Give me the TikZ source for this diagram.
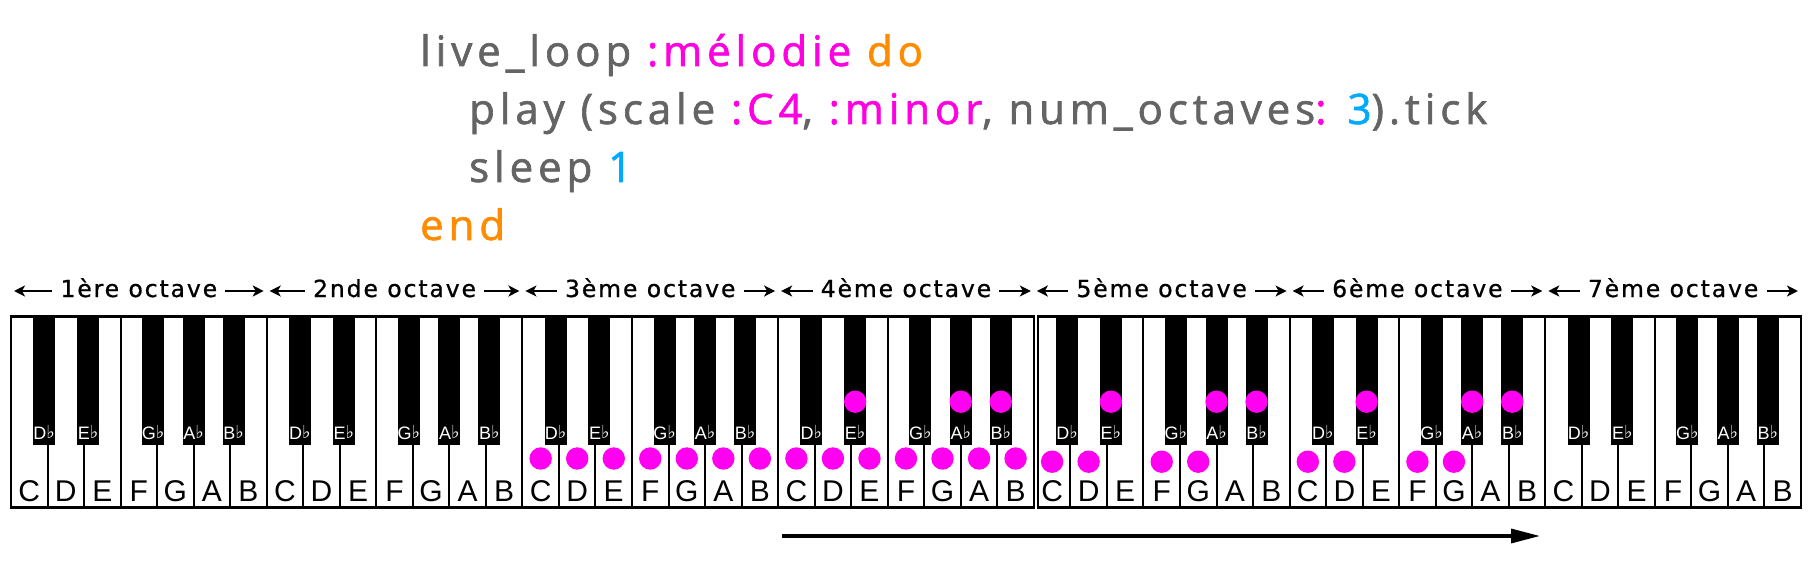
\documentclass[tikz,border=0pt]{standalone}
\usepackage{fontspec}
\usetikzlibrary{arrows.meta,calc}
\newfontfamily\codefont[LetterSpace=11.7,FakeBold=1.5]{Open Sans}
\newfontfamily\octfont[LetterSpace=8,FakeBold=0.8]{DejaVu Sans}
\newfontfamily\keyfont{Liberation Sans}
\newfontfamily\symfont{DejaVu Sans}
\definecolor{codegray}{RGB}{100,100,100}
\definecolor{codepink}{RGB}{255,0,225}
\definecolor{codeorange}{RGB}{255,140,0}
\definecolor{codeblue}{RGB}{0,170,255}
\definecolor{dotpink}{RGB}{255,0,240}
\newcommand\flatlbl[1]{#1\raisebox{1pt}{\symfont\fontsize{18}{18}\selectfont ♭}}
\def\W{36.53}
\tikzset{
  code/.style={anchor=base west, inner sep=0pt, text=codegray, font=\codefont\fontsize{42}{42}\selectfont},
  octlabel/.style={anchor=base, inner xsep=8pt, inner ysep=0pt, font=\octfont\fontsize{23.5}{23.5}\selectfont},
  octarrow/.style={line width=2pt, -{Stealth[length=11pt,width=11pt,inset=3pt]}},
  wlabel/.style={anchor=base, inner sep=0pt, font=\keyfont\fontsize{30}{30}\selectfont},
  blabel/.style={anchor=base, inner sep=0pt, text=white, font=\keyfont\fontsize{18}{18}\selectfont},
  keyline/.style={line width=2pt},
  kbborder/.style={line width=2.2pt},
  dot/.style={circle, fill=dotpink, minimum size=22.4pt, inner sep=0pt},
  timearrow/.style={line width=3.3pt, -{Triangle[length=29pt,width=14pt]}}
}
\begin{document}
\begin{tikzpicture}[x=1pt,y=-1pt]
\useasboundingbox (0,0) rectangle (1815,567);
% code
\node[code] (l1) at (420,66) {live\_loop \textcolor{codepink}{:mélodie} \textcolor{codeorange}{do}};
\node[code] (l2) at (469,124) {play (scale \textcolor{codepink}{:C4}, \textcolor{codepink}{:minor}, num\_octaves\textcolor{codepink}{:} \textcolor{codeblue}{3}).tick};
\node[code] (l3) at (469,182) {sleep \textcolor{codeblue}{1}};
\node[code, text=codeorange] (l4) at (420,240) {end};
% octave labels
\foreach \o/\t in {0/1ère,1/2nde,2/3ème,3/4ème,4/5ème,5/6ème,6/7ème}{
  \pgfmathsetmacro\cx{11+(7*\o+3.5)*\W}
  \pgfmathsetmacro\lx{11+7*\o*\W+3}
  \pgfmathsetmacro\rx{11+7*(\o+1)*\W-3}
  \node[octlabel] (oct\o) at (\cx,297) {\t\ octave};
  \coordinate (octL\o) at (\lx,291);
  \coordinate (octR\o) at (\rx,291);
  \draw[octarrow] (oct\o.west |- octL\o) -- (octL\o);
  \draw[octarrow] (oct\o.east |- octR\o) -- (octR\o);
}
% keyboard
\fill[white] (11,316.5) rectangle ({11+28*\W},507.5);
\fill[white] (1038.3,316.5) rectangle ({11+49*\W},507.5);
\foreach \i in {1,...,27,29,30,...,48}{
  \draw[keyline] ({11+\i*\W},316.5) -- ({11+\i*\W},507.5);
}
\foreach \o in {0,...,6}{
  \foreach \b/\d in {1/-3.3,2/4,4/-4,5/0,6/3.5}{
    \pgfmathsetmacro\cx{11+(7*\o+\b)*\W+\d}
    \fill ({\cx-11},316.5) rectangle ({\cx+11},445);
  }
}
\draw[kbborder] (11,316.5) rectangle ({11+28*\W},507.5);
\draw[kbborder] (1038.3,316.5) rectangle ({11+49*\W},507.5);
% key labels
\foreach \o in {0,...,6}{
  \foreach \n [count=\i from 0] in {C,D,E,F,G,A,B}{
    \pgfmathsetmacro\cx{11+(7*\o+\i+0.5)*\W}
    \node[wlabel] (w-\o-\i) at (\cx,501.7) {\n};
  }
  \foreach \n/\b/\d [count=\j] in {D/1/-3.3,E/2/4,G/4/-4,A/5/0,B/6/3.5}{
    \pgfmathsetmacro\cx{11+(7*\o+\b)*\W+\d}
    \node[blabel] (b-\o-\j) at (\cx,439) {\flatlbl{\n}};
  }
}
% dots on white keys
\foreach \o/\y/\l in {2/458.5/{0,1,2,3,4,5,6},3/458.5/{0,1,2,3,4,5,6},4/461.7/{0,1,3,4},5/461.7/{0,1,3,4}}{
  \foreach \i in \l {
    \pgfmathsetmacro\cx{11+(7*\o+\i+0.5)*\W}
    \node[dot] (dw-\o-\i) at (\cx,\y) {};
  }
}
% dots on black keys
\foreach \o in {3,4,5}{
  \foreach \b/\d/\j in {2/4/2,5/0/4,6/3.5/5}{
    \pgfmathsetmacro\cx{11+(7*\o+\b)*\W+\d}
    \node[dot] (db-\o-\j) at (\cx,401.7) {};
  }
}
% time arrow
\coordinate (t0) at (782,536);
\coordinate (t1) at (1540,536);
\draw[timearrow] (t0) -- (t1);
\end{tikzpicture}
\end{document}
